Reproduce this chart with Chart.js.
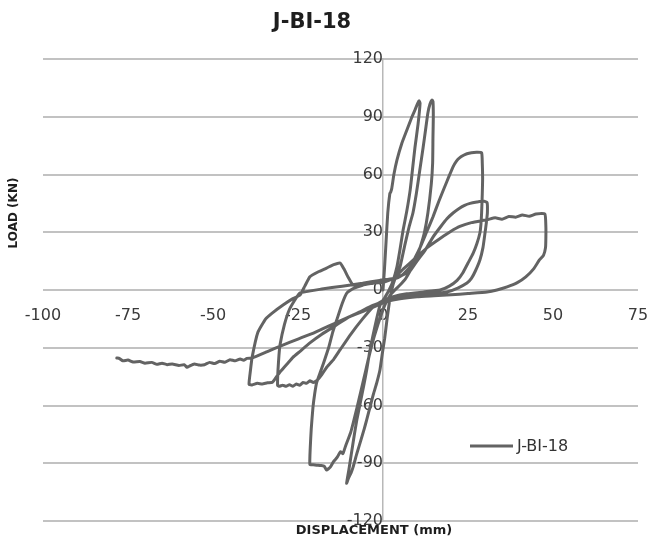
<!DOCTYPE html>
<html>
<head>
<meta charset="utf-8">
<script src="https://cdn.jsdelivr.net/npm/chart.js@4.4.1/dist/chart.umd.min.js"></script>
<style>
  html, body { margin: 0; padding: 0; background: #ffffff; }
  #wrap { width: 649px; height: 546px; }
</style>
</head>
<body>
<div id="wrap"><canvas id="c" width="649" height="546"></canvas></div>
<script>
// ---- Chart text ----
const chartTitle = 'J-BI-18';
const seriesName = 'J-BI-18';
const xAxisTitle = 'DISPLACEMENT (mm)';
const yAxisTitle = 'LOAD (KN)';

// ---- Tick labels ----
const xTickValues = [-100, -75, -50, -25, 0, 25, 50, 75];
const yTickValues = [-120, -90, -60, -30, 0, 30, 60, 90, 120];

// ---- Series values, one pair of arrays per loading cycle (mm, kN) ----
const cycle1Disp = [0, 0.4, 0.9, 1.4, 2.0, 2.3, 2.6, 3.2, 4.1, 5.5, 7.0, 8.3, 9.4, 10.2, 10.6,
  10.9, 10.3, 9.4, 8.7, 8.0, 7.0, 5.9, 5.0, 4.1, 3.0, 1.8, 0.5,
  -0.9, -2.0, -3.0, -4.0, -4.8, -5.7, -6.5, -7.7, -8.5, -9.3, -10.0, -10.7];
const cycle1Load = [0, 10, 25, 40, 50, 51, 53, 60, 67.5, 76, 83, 89, 93.5, 97, 98.3,
  97, 86, 74, 63, 52, 41, 31, 21, 12, 5, 0, -4,
  -8, -16, -24, -33, -41.6, -50, -57, -67.5, -76, -85, -93, -100.4];

const cycle2Disp = [-10.2, -9.4, -8.8, -7.7, -6.5, -5.5, -4.8, -3.7, -2.8, -1.8, -0.9, -0.2, 0.5, 1.2, 2.0, 3.0, 4.0,
  5.0, 6.5, 7.7, 8.8, 9.8, 10.8, 11.8, 12.5, 13.2, 13.8, 14.4, 14.7,
  14.8, 14.7, 14.6, 14.2, 13.2, 12.2, 10.9, 9.5, 8.0, 6.5, 5.0, 3.5, 2.0,
  0.5, -1.5, -3.5, -5.5, -7.5, -9.5, -11.0, -11.8, -12.5, -13.5, -14.5, -15.5, -16.6,
  -17.3, -18.3, -19.5, -20.5, -21.5];
const cycle2Load = [-98, -95, -92, -85, -78, -72, -67.5, -60, -54, -48, -41.6, -33, -25, -15, -5, 3, 8,
  12, 24, 33, 40, 50, 62, 74, 83, 92, 96.5, 98.7, 98,
  90, 80, 66, 55, 40, 30, 22, 15, 10, 5.5, 2.6, 0, -3,
  -8, -18, -30, -45, -60, -74, -81, -85, -84, -87, -89, -92, -93.5,
  -91.5, -91.2, -91, -90.8, -90.6];

const cycle3Disp = [-21.4, -21.1, -20.6, -20.1, -19.5, -18.5, -17.5, -16.0, -14.8, -13.5, -12.0, -10.6, -8.5, -6.0, -3.0, 0, 3.0, 5.5,
  8.0, 9.5, 10.9, 12.8, 14.7, 16.4, 18.0, 19.4, 20.6, 21.6, 22.6, 23.7, 24.7, 26.0, 27.5, 29.0,
  29.2, 29.3, 29.2, 29.0, 28.8, 28.5, 27.6, 26.5, 25.0, 23.5, 21.8, 19.5, 16.8, 12.0, 7.0, 3.0, 0,
  -3.0, -6.0, -9.5, -12.6, -14.5, -16.5, -18.0, -19.4, -20.5, -21.5, -22.5, -23.5, -24.5, -25.5, -26.5, -27.5, -28.5, -29.5, -30.5, -31.0];
const cycle3Load = [-82, -72, -61, -54, -48, -43, -38, -30, -22, -15, -7, -1.5, 1, 2.5, 3.5, 4.5, 5.5, 7.5,
  12, 17, 22, 30, 38, 46, 53, 59, 64, 67, 68.8, 70, 70.8, 71.3, 71.5, 71.3,
  66, 58, 50, 40, 34, 29.6, 24, 19, 14, 9, 5, 2, 0, -1, -2, -3.5, -5.5,
  -9, -15, -23, -31, -36, -40, -44, -47, -48, -47.2, -48.5, -48, -49.5, -48.8, -50, -49.2, -50, -49.5, -50, -49.5];

const cycle4Disp = [-30.9, -30.6, -30.3, -29.0, -27.5, -25.5, -24.4, -18.0, -12.0, -6.0, -1.0, 3.0, 6.0,
  8.0, 10.0, 12.5, 14.7, 17.0, 18.8, 20.6, 22.5, 24.0, 25.6, 27.6, 29.5, 30.6,
  30.7, 30.4, 30.0, 29.4, 28.5, 27.2, 26.0, 24.7, 22.0, 18.8, 14.0, 9.0, 5.0, 2.0, 0,
  -3.0, -7.0, -10.0, -14.0, -18.0, -21.5, -24.5, -26.5, -28.0, -30.0, -31.5, -32.6, -34.0, -35.5, -37.0, -38.5, -39.4];
const cycle4Load = [-42, -34, -28.6, -18, -10, -4, -1.5, 0.5, 2, 3.5, 5, 6, 8,
  10, 15, 21, 27.5, 33, 37, 40, 42.5, 44, 45, 45.7, 46.2, 45.5,
  40, 35, 29.6, 22, 15.6, 10, 6, 3.6, 1, -1, -2, -2.8, -3.5, -4.5, -6,
  -8, -11.5, -14, -18.5, -23, -27.5, -32, -35, -38, -42, -45.5, -48, -48.2, -48.8, -48.5, -49.3, -49];

const cycle5Disp = [-39.0, -38.5, -36.8, -34.5, -32.6, -29.4, -26.5, -24.4, -23.0, -21.5, -19.0, -16.6, -14.5, -12.6, -11.5, -10.2, -8.8, -6.0, -3.0, 0,
  3.0, 6.0, 9.5, 13.0, 17.0, 20.0, 22.6, 26.0, 30.6, 33.0, 35.0, 37.0, 39.0, 41.0, 43.0, 45.0, 47.6,
  47.9, 47.9, 47.8, 47.2, 46.0, 44.3, 42.0, 39.5, 36.5, 33.5, 30.6, 25.0, 20.0, 15.0, 10.0, 5.0, 1.0];
const cycle5Load = [-42, -35, -22, -15, -12, -7.8, -4.5, -2.6, 2, 6.9, 9.5, 11.4, 13.2, 14, 11, 6.5, 2.6, 3, 3.5, 4,
  6, 11, 16.5, 22, 27, 30.5, 33, 35, 36.5, 37.5, 36.8, 38.2, 37.8, 39, 38.3, 39.5, 39.5,
  33, 27, 22, 18, 15.6, 11, 6.8, 3.8, 1.6, 0, -1, -1.8, -2.5, -3, -3.5, -4.5, -6];

const cycle6Disp = [-1.0, -5.0, -10.0, -15.0, -20.0, -25.0, -30.0, -34.0, -38.5,
  -40.0, -41.0, -42.0, -43.5, -45.0, -46.5, -48.0, -49.5, -51.0, -52.5, -54.0, -55.5, -57.0, -57.6,
  -58.5, -60.0, -62.0, -63.5, -65.0, -66.5, -68.0, -70.0, -71.5, -73.5, -75.0, -76.5, -77.5, -78.3];
const cycle6Load = [-7.5, -10.5, -14, -18, -22, -25.5, -29, -32, -35.3,
  -35.5, -36.5, -35.8, -36.8, -36.2, -37.5, -37, -38.2, -37.6, -38.8, -39, -38.4, -39.6, -40.2,
  -38.8, -39.2, -38.4, -38.8, -38, -38.6, -37.6, -38, -37.2, -37.4, -36.4, -36.8, -35.6, -35.3];

const allDisp = [].concat(cycle1Disp, cycle2Disp, cycle3Disp, cycle4Disp, cycle5Disp, cycle6Disp);
const allLoad = [].concat(cycle1Load, cycle2Load, cycle3Load, cycle4Load, cycle5Load, cycle6Load);
const points = allDisp.map((x, i) => ({ x: x, y: allLoad[i] }));

const FONT = '"DejaVu Sans", "Liberation Sans", sans-serif';
const LINE_COLOR = '#636363';

const textPlugin = {
  id: 'textPlugin',
  afterDraw(chart) {
    const ctx = chart.ctx;
    ctx.save();
    ctx.textAlign = 'center';
    ctx.textBaseline = 'middle';
    // title
    ctx.fillStyle = '#1e1e1e';
    ctx.font = 'bold 21px ' + FONT;
    ctx.fillText(chartTitle, 312, 23);
    // x axis title
    ctx.font = 'bold 13px ' + FONT;
    ctx.fillText(xAxisTitle, 374, 531);
    // y axis title
    ctx.save();
    ctx.translate(14, 213);
    ctx.rotate(-Math.PI / 2);
    ctx.font = 'bold 12px ' + FONT;
    ctx.fillText(yAxisTitle, 0, 0);
    ctx.restore();
    // legend
    ctx.strokeStyle = LINE_COLOR;
    ctx.lineWidth = 3;
    ctx.beginPath();
    ctx.moveTo(470, 446);
    ctx.lineTo(513, 446);
    ctx.stroke();
    ctx.fillStyle = '#333333';
    ctx.font = '16px ' + FONT;
    ctx.textAlign = 'left';
    ctx.fillText(seriesName, 517, 447);
    ctx.restore();
  }
};

const noPadding = (scale) => {
  scale.paddingLeft = 0; scale.paddingRight = 0;
  scale.paddingTop = 0; scale.paddingBottom = 0;
};

new Chart(document.getElementById('c'), {
  type: 'scatter',
  data: {
    datasets: [{
      label: seriesName,
      data: points,
      showLine: true,
      borderColor: LINE_COLOR,
      backgroundColor: LINE_COLOR,
      borderWidth: 3,
      pointRadius: 0,
      pointHoverRadius: 0,
      tension: 0.15,
      borderJoinStyle: 'round',
      borderCapStyle: 'round'
    }]
  },
  options: {
    responsive: false,
    animation: false,
    devicePixelRatio: 1,
    layout: { padding: { left: 43, right: 11, top: 59, bottom: 25 } },
    plugins: {
      legend: { display: false },
      title: { display: false },
      tooltip: { enabled: false }
    },
    scales: {
      x: {
        type: 'linear',
        min: -100,
        max: 75,
        position: { y: 0 },
        afterBuildTicks: (scale) => { scale.ticks = xTickValues.map(v => ({ value: v })); },
        afterFit: noPadding,
        grid: { display: false, drawTicks: false },
        border: { display: false },
        ticks: {
          padding: 16,
          maxRotation: 0,
          autoSkip: false,
          color: '#3a3a3a',
          font: { family: FONT, size: 16 }
        }
      },
      y: {
        type: 'linear',
        min: -120,
        max: 120,
        position: { x: 0 },
        afterBuildTicks: (scale) => { scale.ticks = yTickValues.map(v => ({ value: v })); },
        afterFit: noPadding,
        grid: { display: true, drawTicks: false, color: '#c2c2c2', lineWidth: 2 },
        border: { display: true, color: '#b8b8b8', width: 1.5 },
        ticks: {
          padding: 20,
          autoSkip: false,
          color: '#3a3a3a',
          font: { family: FONT, size: 16 }
        }
      }
    }
  },
  plugins: [textPlugin]
});
</script>
</body>
</html>
